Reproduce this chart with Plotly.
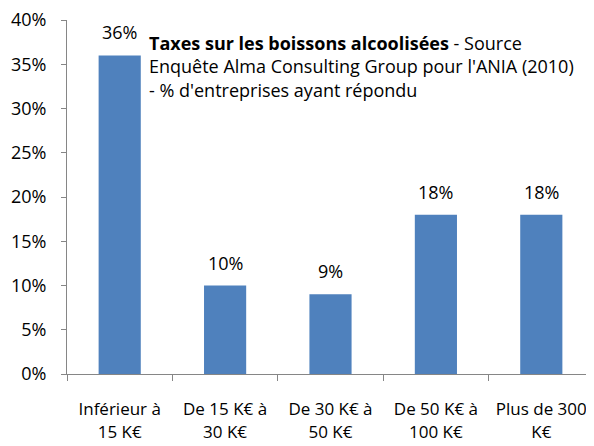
import plotly.graph_objects as go

categories = ["Inférieur à<br>15 K€", "De 15 K€ à<br>30 K€", "De 30 K€ à<br>50 K€",
              "De 50 K€ à<br>100 K€", "Plus de 300<br>K€"]
values = [36, 10, 9, 18, 18]
labels = ["36%", "10%", "9%", "18%", "18%"]
y_ticks = [0, 5, 10, 15, 20, 25, 30, 35, 40]
y_tick_labels = [f"{v}%" for v in y_ticks]

FONT = "Open Sans"
FS = 18
AXIS_COLOR = "#868686"

fig = go.Figure(go.Bar(x=categories, y=values, marker_color="#4F81BD",
                       marker_line_width=0, hoverinfo="skip"))

for c, v, t in zip(categories, values, labels):
    fig.add_annotation(x=c, y=v, text=t, showarrow=False, yanchor="bottom",
                       yshift=9, font=dict(family=FONT, size=FS, color="black"))

fig.add_annotation(xref="paper", yref="paper", x=0.152, y=0.975, xanchor="left", yanchor="top",
                   align="left", showarrow=False,
                   text="<b>Taxes sur les boissons alcoolisées</b> - Source<br>"
                        "Enquête Alma Consulting Group pour l'ANIA (2010)<br>"
                        "- % d'entreprises ayant répondu",
                   font=dict(family=FONT, size=18, color="black"))

# page body has an 8px default margin; figure sized to fill the remaining window
fig.update_layout(
    width=586, height=438,
    margin=dict(l=59, r=0, t=12, b=72, autoexpand=False),
    paper_bgcolor="white", plot_bgcolor="white",
    bargap=0.6, showlegend=False,
    font=dict(family=FONT, size=FS, color="black"),
)
fig.update_xaxes(showline=True, linecolor=AXIS_COLOR, linewidth=1, ticks="outside",
                 tickson="boundaries", ticklen=6, tickcolor=AXIS_COLOR, automargin=False,
                 ticklabeloverflow="allow", ticklabelstandoff=20,
                 showgrid=False, tickfont=dict(family=FONT, size=17))
fig.update_yaxes(range=[0, 40], tickvals=y_ticks, ticktext=y_tick_labels, automargin=False,
                 ticklabeloverflow="allow", ticklabelstandoff=11,
                 showline=True, linecolor=AXIS_COLOR, linewidth=1, ticks="outside",
                 ticklen=5, tickcolor=AXIS_COLOR, showgrid=False, zeroline=False,
                 tickfont=dict(family=FONT, size=FS))

fig.write_html("out.html")
